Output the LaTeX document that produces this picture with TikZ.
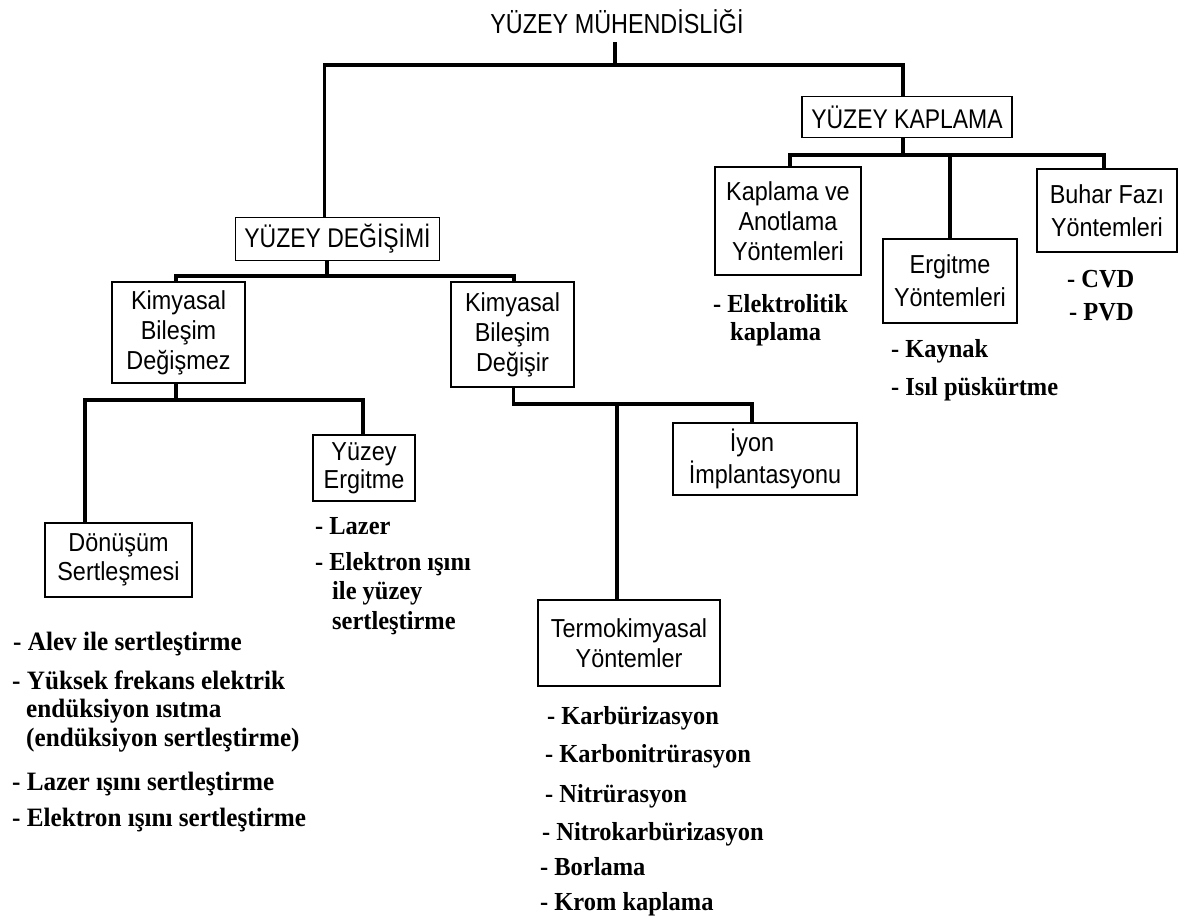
\documentclass[tikz,border=0pt]{standalone}
\usepackage{fontspec}
\setmainfont{Liberation Serif}
\newfontfamily\boxfont[FakeStretch=0.9]{Liberation Sans}
\newfontfamily\capfont[FakeStretch=0.85]{Liberation Sans}
\newfontfamily\itemfont[FakeStretch=0.94]{Liberation Serif}
\newfontfamily\leftitemfont[FakeStretch=0.95]{Liberation Serif}
\begin{document}
\begin{tikzpicture}[x=1pt,y=-1pt,
  conn/.style={line width=3.6pt},
  nbox/.style={draw, line width=1.2pt, align=center, inner sep=0pt,
    font=\boxfont\fontsize{26}{30}\selectfont},
  capbox/.style={nbox, font=\capfont\fontsize{27}{30}\selectfont},
  item/.style={anchor=west, inner sep=0pt, text height=18pt, text depth=4pt,
    font=\itemfont\bfseries\fontsize{26}{30}\selectfont},
  litem/.style={item, font=\leftitemfont\bfseries\fontsize{26.5}{30}\selectfont}]
\useasboundingbox (0,0) rectangle (1184,919);

% top
\node[inner sep=0pt, font=\capfont\fontsize{27.5}{30}\selectfont] (title) at (617,22) {YÜZEY MÜHENDİSLİĞİ};
\coordinate (tb) at (615,42);
\coordinate (j1) at (615,65);

\node[capbox, minimum width=210pt, minimum height=41pt] (ykap) at (907,117) {YÜZEY KAPLAMA};
\node[capbox, minimum width=204pt, minimum height=43pt] (ydeg) at (337.5,239) {YÜZEY DEĞİŞİMİ};

\draw[conn] (tb) -- (j1);
\draw[conn] ([xshift=-13pt]ydeg.north) |- (j1) -| ([xshift=-4pt]ykap.north);

% right side
\node[nbox, minimum width=146pt, minimum height=108pt] (kap) at (788,221) {Kaplama ve\\Anotlama\\Yöntemleri};
\node[nbox, minimum width=134pt, minimum height=84pt, font=\boxfont\fontsize{26}{33}\selectfont] (erg) at (950,281) {Ergitme\\Yöntemleri};
\node[nbox, minimum width=140pt, minimum height=83pt, font=\boxfont\fontsize{26}{33}\selectfont] (buhar) at (1107,210.5) {Buhar Fazı\\Yöntemleri};
\coordinate (b2) at (903,155);
\draw[conn] ([xshift=-4pt]ykap.south) -- (b2);
\draw[conn] ([xshift=2pt]kap.north) |- (b2) -| ([xshift=-3pt]buhar.north);
\draw[conn] (erg.north) -- (erg.north |- b2);

\node[item] (i1) at (713,305) {- Elektrolitik};
\node[item] (i2) at (730,333) {kaplama};
\node[item] (i3) at (891,350) {- Kaynak};
\node[item] (i4) at (891,388) {- Isıl püskürtme};
\node[item] (i5) at (1067,280) {- CVD};
\node[item] (i6) at (1069,313) {- PVD};

% left side
\node[nbox, minimum width=133pt, minimum height=101pt] (dgz) at (178.5,332.5) {Kimyasal\\Bileşim\\Değişmez};
\node[nbox, minimum width=123pt, minimum height=105pt] (dgr) at (512.5,334.5) {Kimyasal\\Bileşim\\Değişir};
\coordinate (b3) at (327,276);
\draw[conn] ([xshift=-10.5pt]ydeg.south) -- (b3);
\draw[conn] ([xshift=-2.5pt]dgz.north) |- (b3) -| ([xshift=1.5pt]dgr.north);

\node[nbox, minimum width=147pt, minimum height=74pt, font=\boxfont\fontsize{26}{29}\selectfont] (don) at (118.5,560) {Dönüşüm\\Sertleşmesi};
\node[nbox, minimum width=102pt, minimum height=66pt, font=\boxfont\fontsize{26}{28}\selectfont] (yerg) at (364,468) {Yüzey\\Ergitme};
\coordinate (b4) at (176,400);
\draw[conn] ([xshift=-2.5pt]dgz.south) -- (b4);
\draw[conn] ([xshift=-33.5pt]don.north) |- (b4) -| ([xshift=-1pt]yerg.north);

\node[nbox, minimum width=184pt, minimum height=72pt, font=\boxfont\fontsize{26}{32}\selectfont] (iyon) at (765,459) {İyon\hspace*{26pt}\\İmplantasyonu};
\node[nbox, minimum width=182pt, minimum height=86pt] (term) at (629,643) {Termokimyasal\\Yöntemler};
\coordinate (b5) at (617,404);
\draw[conn] ([xshift=1pt]dgr.south) |- (b5) -| ([xshift=-13pt]iyon.north);
\draw[conn] ([xshift=-12pt]term.north) -- (b5);

\node[item] (l1) at (315,527) {- Lazer};
\node[item] (l2) at (315,563) {- Elektron ışını};
\node[item] (l3) at (332,592) {ile yüzey};
\node[item] (l4) at (332,622) {sertleştirme};

\node[litem] (d1) at (13,643) {- Alev ile sertleştirme};
\node[litem] (d2) at (12,682) {- Yüksek frekans elektrik};
\node[litem] (d3) at (26,710) {endüksiyon ısıtma};
\node[litem] (d4) at (26,739) {(endüksiyon sertleştirme)};
\node[litem] (d5) at (12,783) {- Lazer ışını sertleştirme};
\node[litem] (d6) at (12,819) {- Elektron ışını sertleştirme};

\node[item] (t1) at (547,717) {- Karbürizasyon};
\node[item] (t2) at (545,755) {- Karbonitrürasyon};
\node[item] (t3) at (545,795) {- Nitrürasyon};
\node[item] (t4) at (542,833) {- Nitrokarbürizasyon};
\node[item] (t5) at (540,868) {- Borlama};
\node[item] (t6) at (540,903) {- Krom kaplama};
\end{tikzpicture}
\end{document}
